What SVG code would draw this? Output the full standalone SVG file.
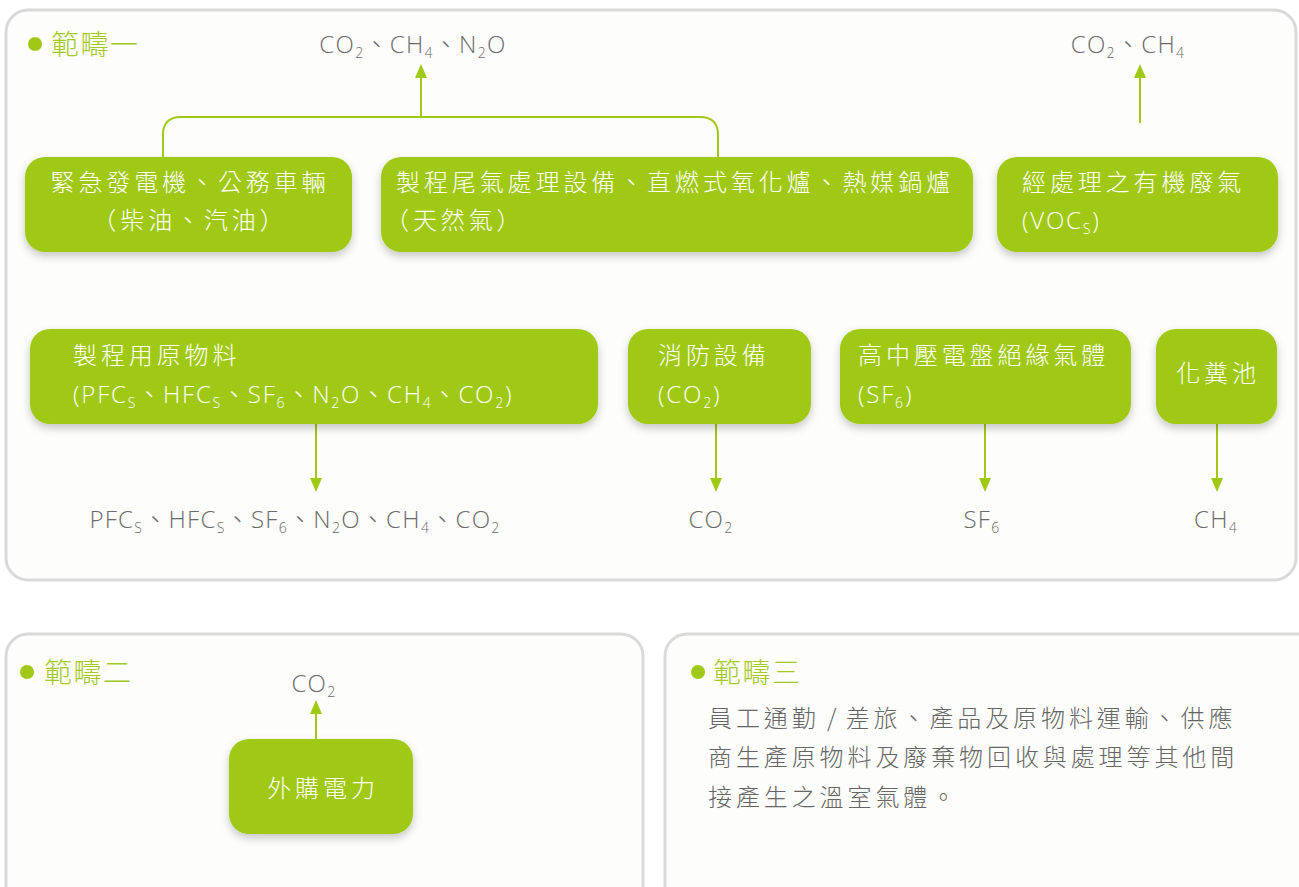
<svg xmlns="http://www.w3.org/2000/svg" width="1299" height="887" viewBox="0 0 1299 887">
<defs>
<style>
.panel{fill:#fdfdfb;stroke:#d9d9d9;stroke-width:3}
.node{fill:#a0c915;filter:url(#sh)}
.nt{font-family:"Noto Sans CJK TC","Noto Sans",sans-serif;font-weight:300;font-size:24px;fill:#ffffff;letter-spacing:3.9px}
.ns{font-family:"Open Sans","Noto Sans CJK TC",sans-serif;font-weight:300;font-size:24px;fill:#ffffff;letter-spacing:1.8px}
.gl{font-family:"Open Sans","Noto Sans CJK TC",sans-serif;font-weight:300;font-size:24px;fill:#6a6a6a;letter-spacing:1.3px}
.sub{font-size:14px}
.title{font-family:"Noto Sans CJK TC","Noto Sans",sans-serif;font-weight:300;font-size:28px;fill:#a3c923;letter-spacing:1.5px}
.para{font-family:"Noto Sans CJK TC","Noto Sans",sans-serif;font-weight:300;font-size:24px;fill:#666666;letter-spacing:3.9px}
.conn{fill:none;stroke:#a0c915;stroke-width:2}
.dot{fill:#a0c915}
</style>
<filter id="sh" x="-20%" y="-20%" width="140%" height="150%">
<feDropShadow dx="0" dy="4" stdDeviation="4" flood-color="#000" flood-opacity="0.22"/>
</filter>
<marker id="ah" viewBox="0 0 14 12" refX="10" refY="6" markerWidth="14" markerHeight="12" markerUnits="userSpaceOnUse" orient="auto">
<path d="M0,0 L14,6 L0,12 z" fill="#a0c915"/>
</marker>
</defs>
<rect width="1299" height="887" fill="#ffffff"/>

<g id="panels">
<rect class="panel" x="6" y="10" width="1290" height="570" rx="22"/>
<rect class="panel" x="6" y="634" width="637" height="280" rx="22"/>
<rect class="panel" x="665" y="634" width="660" height="280" rx="22"/>
</g>

<g id="titles">
<circle class="dot" cx="35" cy="44" r="7"/>
<text class="title" x="51" y="55">範疇一</text>
<circle class="dot" cx="27" cy="672" r="7"/>
<text class="title" x="44" y="683">範疇二</text>
<circle class="dot" cx="698" cy="672" r="7"/>
<text class="title" x="713" y="683">範疇三</text>
</g>

<g id="connectors">
<path class="conn" d="M163,157 V135 Q163,117 181,117 H700 Q718,117 718,135 V157"/>
<line class="conn" x1="421" y1="117" x2="421" y2="68" marker-end="url(#ah)"/>
<line class="conn" x1="1140" y1="123" x2="1140" y2="68" marker-end="url(#ah)"/>
<line class="conn" x1="316" y1="424" x2="316" y2="488" marker-end="url(#ah)"/>
<line class="conn" x1="716" y1="424" x2="716" y2="488" marker-end="url(#ah)"/>
<line class="conn" x1="985" y1="424" x2="985" y2="488" marker-end="url(#ah)"/>
<line class="conn" x1="1217" y1="424" x2="1217" y2="488" marker-end="url(#ah)"/>
<line class="conn" x1="316" y1="739" x2="316" y2="704" marker-end="url(#ah)"/>
</g>

<g id="labels">
<text class="gl" x="413" y="53" text-anchor="middle">CO<tspan class="sub" dy="5">2</tspan><tspan dy="-5">、CH</tspan><tspan class="sub" dy="5">4</tspan><tspan dy="-5">、N</tspan><tspan class="sub" dy="5">2</tspan><tspan dy="-5">O</tspan></text>
<text class="gl" x="1128" y="53" text-anchor="middle">CO<tspan class="sub" dy="5">2</tspan><tspan dy="-5">、CH</tspan><tspan class="sub" dy="5">4</tspan></text>
<text class="gl" x="295" y="528" text-anchor="middle">PFC<tspan class="sub" dy="5">S</tspan><tspan dy="-5">、HFC</tspan><tspan class="sub" dy="5">S</tspan><tspan dy="-5">、SF</tspan><tspan class="sub" dy="5">6</tspan><tspan dy="-5">、N</tspan><tspan class="sub" dy="5">2</tspan><tspan dy="-5">O、CH</tspan><tspan class="sub" dy="5">4</tspan><tspan dy="-5">、CO</tspan><tspan class="sub" dy="5">2</tspan></text>
<text class="gl" x="711" y="528" text-anchor="middle">CO<tspan class="sub" dy="5">2</tspan></text>
<text class="gl" x="982" y="528" text-anchor="middle">SF<tspan class="sub" dy="5">6</tspan></text>
<text class="gl" x="1216" y="528" text-anchor="middle">CH<tspan class="sub" dy="5">4</tspan></text>
<text class="gl" x="314" y="692" text-anchor="middle">CO<tspan class="sub" dy="5">2</tspan></text>
</g>

<g id="node-generator">
<rect class="node" x="25" y="157" width="327" height="95" rx="20"/>
<text class="nt" x="190" y="191" text-anchor="middle">緊急發電機、公務車輛</text>
<text class="nt" x="190" y="229" text-anchor="middle">（柴油、汽油）</text>
</g>
<g id="node-process-exhaust">
<rect class="node" x="381" y="157" width="592" height="95" rx="20"/>
<text class="nt" x="396" y="191">製程尾氣處理設備、直燃式氧化爐、熱媒鍋爐</text>
<text class="nt" x="385" y="229">（天然氣）</text>
</g>
<g id="node-voc">
<rect class="node" x="997" y="157" width="281" height="95" rx="20"/>
<text class="nt" x="1022" y="191">經處理之有機廢氣</text>
<text class="ns" x="1022" y="229">(VOC<tspan class="sub" dy="5">S</tspan><tspan dy="-5">)</tspan></text>
</g>
<g id="node-raw-material">
<rect class="node" x="30" y="329" width="568" height="95" rx="20"/>
<text class="nt" x="73" y="364">製程用原物料</text>
<text class="ns" x="73" y="403">(PFC<tspan class="sub" dy="5">S</tspan><tspan dy="-5">、HFC</tspan><tspan class="sub" dy="5">S</tspan><tspan dy="-5">、SF</tspan><tspan class="sub" dy="5">6</tspan><tspan dy="-5">、N</tspan><tspan class="sub" dy="5">2</tspan><tspan dy="-5">O、CH</tspan><tspan class="sub" dy="5">4</tspan><tspan dy="-5">、CO</tspan><tspan class="sub" dy="5">2</tspan><tspan dy="-5">)</tspan></text>
</g>
<g id="node-fire">
<rect class="node" x="628" y="329" width="183" height="95" rx="20"/>
<text class="nt" x="658" y="364">消防設備</text>
<text class="ns" x="658" y="403">(CO<tspan class="sub" dy="5">2</tspan><tspan dy="-5">)</tspan></text>
</g>
<g id="node-switchgear">
<rect class="node" x="840" y="329" width="291" height="95" rx="20"/>
<text class="nt" x="858" y="364">高中壓電盤絕緣氣體</text>
<text class="ns" x="858" y="403">(SF<tspan class="sub" dy="5">6</tspan><tspan dy="-5">)</tspan></text>
</g>
<g id="node-septic">
<rect class="node" x="1156" y="329" width="121" height="95" rx="20"/>
<text class="nt" x="1218" y="382" text-anchor="middle">化糞池</text>
</g>
<g id="node-electricity">
<rect class="node" x="229" y="739" width="184" height="95" rx="20"/>
<text class="nt" x="323" y="797" text-anchor="middle">外購電力</text>
</g>

<g id="scope3-text">
<text class="para" x="708" y="727">員工通勤<tspan letter-spacing="2px"> / </tspan>差旅、產品及原物料運輸、供應</text>
<text class="para" x="708" y="766">商生產原物料及廢棄物回收與處理等其他間</text>
<text class="para" x="708" y="806">接產生之溫室氣體。</text>
</g>
</svg>
